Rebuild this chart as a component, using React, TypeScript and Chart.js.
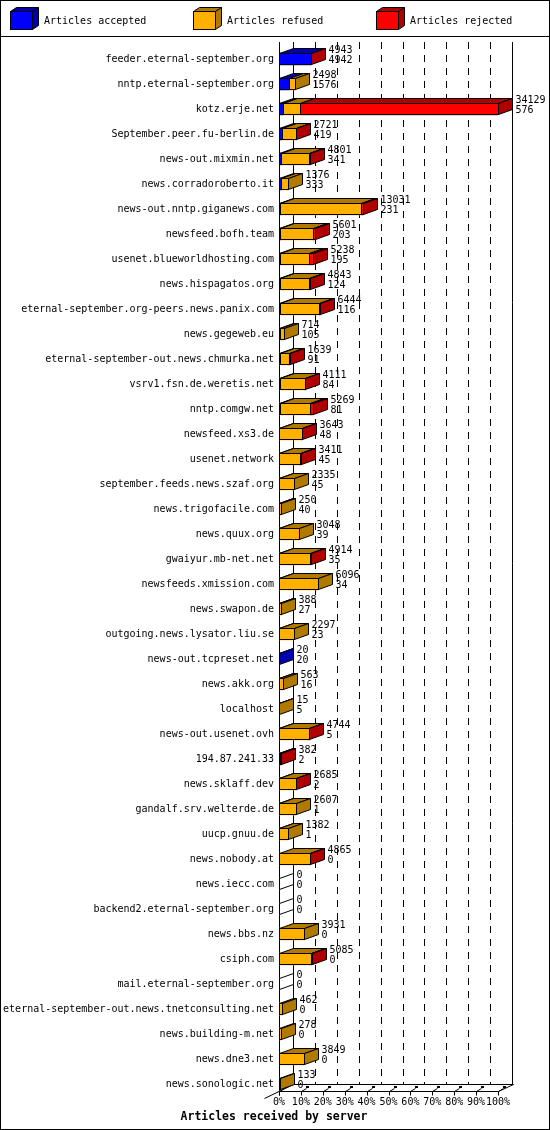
import { useEffect, useRef } from "react";
import { Chart, registerables } from "chart.js";

Chart.register(...registerables);

const servers = [
  "feeder.eternal-september.org",
  "nntp.eternal-september.org",
  "kotz.erje.net",
  "September.peer.fu-berlin.de",
  "news-out.mixmin.net",
  "news.corradoroberto.it",
  "news-out.nntp.giganews.com",
  "newsfeed.bofh.team",
  "usenet.blueworldhosting.com",
  "news.hispagatos.org",
  "eternal-september.org-peers.news.panix.com",
  "news.gegeweb.eu",
  "eternal-september-out.news.chmurka.net",
  "vsrv1.fsn.de.weretis.net",
  "nntp.comgw.net",
  "newsfeed.xs3.de",
  "usenet.network",
  "september.feeds.news.szaf.org",
  "news.trigofacile.com",
  "news.quux.org",
  "gwaiyur.mb-net.net",
  "newsfeeds.xmission.com",
  "news.swapon.de",
  "outgoing.news.lysator.liu.se",
  "news-out.tcpreset.net",
  "news.akk.org",
  "localhost",
  "news-out.usenet.ovh",
  "194.87.241.33",
  "news.sklaff.dev",
  "gandalf.srv.welterde.de",
  "uucp.gnuu.de",
  "news.nobody.at",
  "news.iecc.com",
  "backend2.eternal-september.org",
  "news.bbs.nz",
  "csiph.com",
  "mail.eternal-september.org",
  "eternal-september-out.news.tnetconsulting.net",
  "news.building-m.net",
  "news.dne3.net",
  "news.sonologic.net",
];

// articles offered (upper number next to each bar)
const offered = [
  4943, 2498, 34129, 2721, 4801, 1376, 13031, 5601, 5238, 4843, 6444, 714,
  1639, 4111, 5269, 3643, 3411, 2335, 250, 3048, 4914, 6096, 388, 2297, 20,
  563, 15, 4744, 382, 2685, 2607, 1382, 4865, 0, 0, 3931, 5085, 0, 462, 278,
  3849, 133,
];

// articles accepted (lower number next to each bar)
const accepted = [
  4942, 1576, 576, 419, 341, 333, 231, 203, 195, 124, 116, 105, 91, 84, 81,
  48, 45, 45, 40, 39, 35, 34, 27, 23, 20, 16, 5, 5, 2, 2, 1, 1, 0, 0, 0, 0, 0,
  0, 0, 0, 0, 0,
];

// estimated from the bar segments
const refused = [
  0, 922, 2760, 2242, 4310, 1043, 12600, 5098, 4493, 4619, 6178, 609, 1398,
  3927, 4788, 3495, 3216, 2290, 210, 3009, 4779, 6062, 361, 2274, 0, 547, 10,
  4639, 200, 2633, 2606, 1381, 4825, 0, 0, 3931, 4985, 0, 462, 278, 3849, 133,
];

const rejected = [
  1, 0, 30793, 60, 150, 0, 200, 300, 550, 100, 150, 0, 150, 100, 400, 100,
  150, 0, 0, 0, 100, 0, 0, 0, 0, 0, 0, 100, 180, 50, 0, 0, 40, 0, 0, 0, 100, 0,
  0, 0, 0, 0,
];

const seriesNames = ["Articles accepted", "Articles refused", "Articles rejected"];
const tickLabels = ["0%", "10%", "20%", "30%", "40%", "50%", "60%", "70%", "80%", "90%", "100%"];
const axisTitle = "Articles received by server";

const frontColors = ["#0000ff", "#ffb000", "#ff0000"];
const darkColors = ["#0000b0", "#b07900", "#b00000"];

const MONO = '"DejaVu Sans Mono", monospace';
const DX = 14;
const DY = 5;

const maxTotal = Math.max(...offered);
const toPct = (arr: number[]) => arr.map((v) => (v / maxTotal) * 100);

const threeD = {
  id: "threeD",
  beforeDatasetsDraw(chart: any) {
    const { ctx, chartArea } = chart;
    const xs = chart.scales.x;
    const wallTop = chartArea.top - 4.5;
    const floorFront = chartArea.bottom - 5;
    const floorBack = floorFront - 7;
    const x0 = Math.round(xs.getPixelForValue(0)) + 0.5;
    const x100 = Math.round(xs.getPixelForValue(100)) + 0.5;

    ctx.save();
    ctx.strokeStyle = "#000";
    ctx.fillStyle = "#000";
    ctx.lineWidth = 1;

    // back wall lines
    tickLabels.forEach((_, k) => {
      const bx = Math.round(xs.getPixelForValue(k * 10) + DX) + 0.5;
      ctx.setLineDash(k === 0 || k === 10 ? [] : [7, 6]);
      ctx.beginPath();
      ctx.moveTo(bx, wallTop);
      ctx.lineTo(bx, floorBack);
      ctx.stroke();
    });
    ctx.setLineDash([]);

    // front axis line
    ctx.beginPath();
    ctx.moveTo(x0, wallTop);
    ctx.lineTo(x0, floorFront + 4);
    ctx.stroke();

    // floor
    ctx.beginPath();
    ctx.moveTo(x0, floorFront);
    ctx.lineTo(x100, floorFront);
    ctx.lineTo(x100 + DX + 1, floorBack);
    ctx.lineTo(x0 + DX, floorBack);
    ctx.moveTo(x0 - 15, floorFront + 7);
    ctx.lineTo(x0 + DX, floorBack);
    ctx.stroke();

    // ticks
    tickLabels.forEach((_, k) => {
      const fx = Math.round(xs.getPixelForValue(k * 10)) + 0.5;
      ctx.beginPath();
      ctx.moveTo(fx, floorFront);
      ctx.lineTo(fx, floorFront + 4);
      ctx.moveTo(fx, floorFront);
      ctx.lineTo(fx + 5, floorFront - 3);
      ctx.stroke();
      ctx.fillRect(fx + 4.5, floorFront - 5.5, 3, 2);
    });
    ctx.restore();
  },
  afterDatasetsDraw(chart: any) {
    const { ctx } = chart;
    const metas = [0, 1, 2].map((d) => chart.getDatasetMeta(d));
    ctx.save();
    ctx.lineWidth = 1;
    ctx.strokeStyle = "#000";

    servers.forEach((_, i) => {
      const els = metas.map((m: any) => m.data[i]);
      const vals = [accepted[i], refused[i], rejected[i]];
      const cy = els[0].y;
      const h = els[0].height;
      const T = Math.round(cy - h / 2) + 0.5;
      const B = Math.round(cy + h / 2) - 0.5;
      let last = -1;
      let rEnd = Math.round(els[0].base);

      vals.forEach((v, d) => {
        if (v <= 0) return;
        last = d;
        const el = els[d];
        const l = Math.round(Math.min(el.base, el.x)) + 0.5;
        const r = Math.round(Math.max(el.base, el.x)) + 0.5;
        rEnd = Math.round(Math.max(el.base, el.x));
        // top face
        ctx.beginPath();
        ctx.moveTo(l, T);
        ctx.lineTo(l + DX, T - DY);
        ctx.lineTo(r + DX, T - DY);
        ctx.lineTo(r, T);
        ctx.closePath();
        ctx.fillStyle = darkColors[d];
        ctx.fill();
        ctx.stroke();
        // front outline
        ctx.strokeRect(l, T, r - l, B - T);
      });

      // side face
      const R = rEnd + 0.5;
      ctx.beginPath();
      ctx.moveTo(R, T);
      ctx.lineTo(R + DX, T - DY);
      ctx.lineTo(R + DX, B - DY);
      ctx.lineTo(R, B);
      ctx.closePath();
      ctx.fillStyle = last >= 0 ? darkColors[last] : "#ffffff";
      ctx.fill();
      ctx.stroke();

      // value labels
      ctx.fillStyle = "#000";
      ctx.font = `10px ${MONO}`;
      ctx.textAlign = "left";
      ctx.textBaseline = "middle";
      ctx.fillText(String(offered[i]), R + DX + 3, cy - 9);
      ctx.fillText(String(accepted[i]), R + DX + 3, cy + 1);
    });

    // legend
    ctx.beginPath();
    ctx.moveTo(0, 36.5);
    ctx.lineTo(550, 36.5);
    ctx.stroke();
    const legendX = [10, 193, 376];
    seriesNames.forEach((name, d) => {
      const lx = legendX[d] + 0.5;
      const ty = 11.5;
      const w = 22;
      const hh = 18;
      ctx.fillStyle = frontColors[d];
      ctx.fillRect(lx, ty, w, hh);
      ctx.strokeRect(lx, ty, w, hh);
      ctx.beginPath();
      ctx.moveTo(lx, ty);
      ctx.lineTo(lx + 6, ty - 4);
      ctx.lineTo(lx + w + 6, ty - 4);
      ctx.lineTo(lx + w, ty);
      ctx.closePath();
      ctx.fillStyle = darkColors[d];
      ctx.fill();
      ctx.stroke();
      ctx.beginPath();
      ctx.moveTo(lx + w, ty);
      ctx.lineTo(lx + w + 6, ty - 4);
      ctx.lineTo(lx + w + 6, ty + hh - 4);
      ctx.lineTo(lx + w, ty + hh);
      ctx.closePath();
      ctx.fill();
      ctx.stroke();
      ctx.fillStyle = "#000";
      ctx.font = `10px ${MONO}`;
      ctx.textAlign = "left";
      ctx.textBaseline = "middle";
      ctx.fillText(name, legendX[d] + 34, 21.5);
    });

    // axis title
    ctx.font = `bold 11.5px ${MONO}`;
    ctx.textAlign = "center";
    ctx.fillText(axisTitle, 274, 1117);

    // outer frame
    ctx.strokeRect(0.5, 0.5, 549, 1129);
    ctx.restore();
  },
};

export default function App() {
  const chartRef = useRef<HTMLCanvasElement>(null);
  const chartInstance = useRef<Chart | null>(null);

  useEffect(() => {
    if (!chartRef.current) return;
    if (chartInstance.current) {
      chartInstance.current.destroy();
    }

    const font = { family: MONO, size: 10 };
    const values = [accepted, refused, rejected];

    chartInstance.current = new Chart(chartRef.current, {
      type: "bar",
      data: {
        labels: servers,
        datasets: seriesNames.map((name, d) => ({
          label: name,
          data: toPct(values[d]),
          backgroundColor: frontColors[d],
          borderWidth: 0,
          barThickness: 12,
        })),
      },
      options: {
        indexAxis: "y",
        responsive: false,
        animation: false,
        devicePixelRatio: 1,
        layout: { padding: { top: 46.5, right: 52, left: 0, bottom: 0 } },
        plugins: {
          legend: { display: false },
          tooltip: { enabled: false },
        },
        scales: {
          x: {
            stacked: true,
            min: 0,
            max: 100,
            grid: { display: false, drawTicks: false },
            border: { display: false },
            ticks: {
              stepSize: 10,
              autoSkip: false,
              maxRotation: 0,
              minRotation: 0,
              padding: 0,
              color: "#000",
              font,
              callback: (_v: any, idx: number) => tickLabels[idx],
            },
            afterFit: (s: any) => {
              s.height = 33.5;
            },
          },
          y: {
            stacked: true,
            grid: { display: false, drawTicks: false },
            border: { display: false },
            ticks: { autoSkip: false, padding: 5, color: "#000", font },
            afterFit: (s: any) => {
              s.width = 279;
            },
          },
        },
      },
      plugins: [threeD as any],
    });

    return () => {
      if (chartInstance.current) {
        chartInstance.current.destroy();
        chartInstance.current = null;
      }
    };
  }, []);

  return (
    <div style={{ position: "absolute", left: 0, top: 0, width: 550, height: 1130, background: "#fff" }}>
      <canvas ref={chartRef} width={550} height={1130} style={{ display: "block" }} />
    </div>
  );
}
